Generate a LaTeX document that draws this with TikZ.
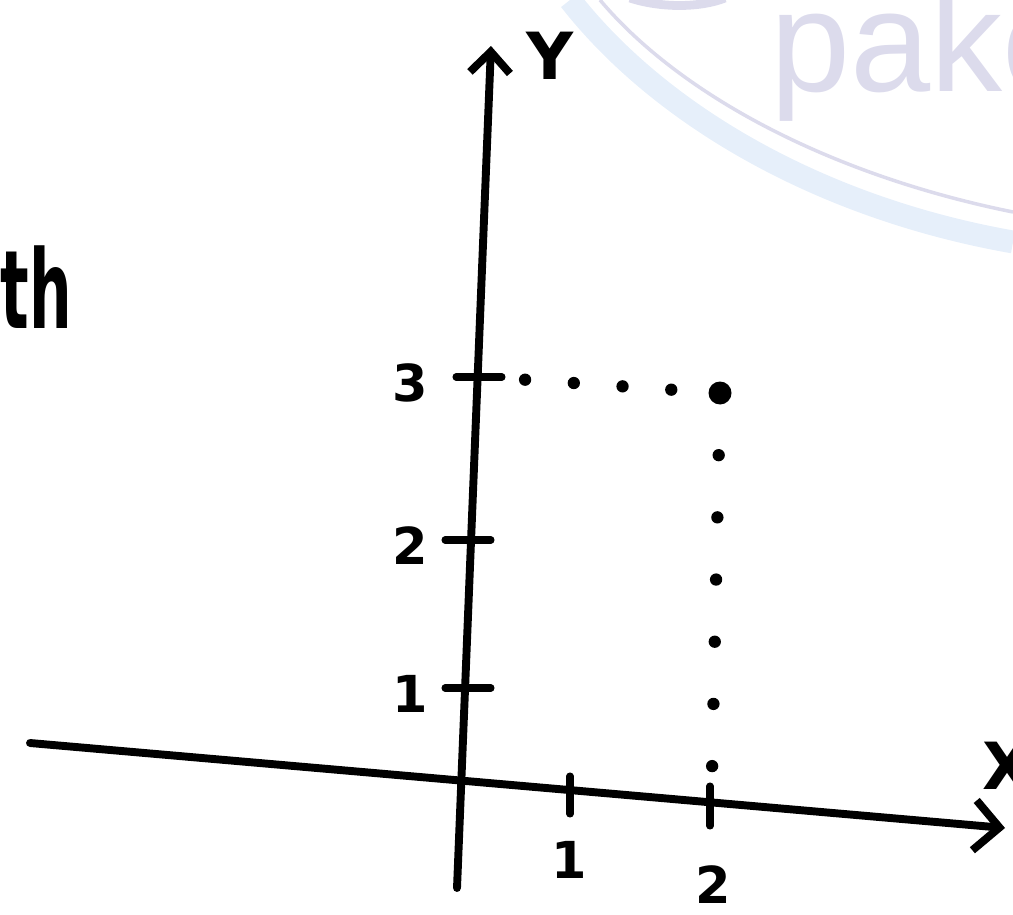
\documentclass[tikz,border=0pt]{standalone}
\usepackage{fontspec}
\setmainfont{DejaVu Sans}
\newfontfamily\wmfont{Liberation Sans}
\usepackage{xcolor}
\usetikzlibrary{positioning,arrows.meta,calc}
\definecolor{wmark}{HTML}{DCDBEC}
\definecolor{wband}{HTML}{E6EFFA}

\begin{document}
\begin{tikzpicture}[x=0.02cm,y=-0.02cm,
  axis/.style={line width=4.5pt,line cap=round},
  tick/.style={line width=4pt,line cap=round},
  lbl/.style={font=\fontsize{29}{29}\selectfont\bfseries,inner sep=0pt},
  dotln/.style={line width=7pt,line cap=round,dash pattern=on 0pt off #1},
  pt/.style={circle,fill,inner sep=0pt,minimum size=0.46cm}]
\useasboundingbox (0,0) rectangle (1013,915);
\clip (0,0) rectangle (1013,915);
% watermark
\draw[wband,line width=13pt] (570,0) .. controls (660,115) and (820,208) .. (1013,242);
\draw[wmark,line width=2pt] (600,0) .. controls (680,95) and (830,175) .. (1013,212);
\draw[wmark,line width=5pt] (630,-2) .. controls (660,8) and (700,8) .. (725,-2);
\node[wmark,anchor=base west,inner sep=0pt,font=\wmfont\fontsize{82}{82}\selectfont] (wm) at (770,92) {pako};
\node[anchor=base east,inner sep=0pt,transform shape,xscale=0.55,font=\fontsize{62}{62}\selectfont\bfseries] (th) at (72,328) {th};
% axes
\coordinate (O) at (458,781);
\coordinate (xs) at (30,743); \coordinate (xe) at (1005,828);
\coordinate (ys) at (457,888); \coordinate (ye) at (491,46);
\draw[axis,-{Straight Barb[length=0.5cm,width=1cm]}] (xs) -- (xe);
\draw[axis,-{Straight Barb[length=0.42cm,width=0.8cm]}] (ys) -- (ye);
\node[lbl,font=\fontsize{37}{37}\selectfont\bfseries] (ylab) at (550,56) {Y};
\node[lbl,font=\fontsize{37}{37}\selectfont\bfseries] (xlab) at (1008,766) {X};
\foreach \n/\yy/\xa in {1/688/445,2/540/445,3/377/456} {
  \draw[tick] (\xa,\yy) -- ++(46,0);
  \node[lbl] (ly\n) at (410,\yy+6) {\n};
}
\draw[tick] (570,776) -- (570,814); \node[lbl] (lx1) at (569,860) {1};
\draw[tick] (710,786) -- (710,826); \node[lbl] (lx2) at (713,885) {2};
% point and projections
\node[pt] (P) at (720,393) {};
\coordinate (h3) at (500,378); \coordinate (v2) at (712,772);
\draw[dotln=27.8pt] (P.center) -- (h3);
\draw[dotln=35.4pt] (P.center) -- (v2);
\end{tikzpicture}
\end{document}
